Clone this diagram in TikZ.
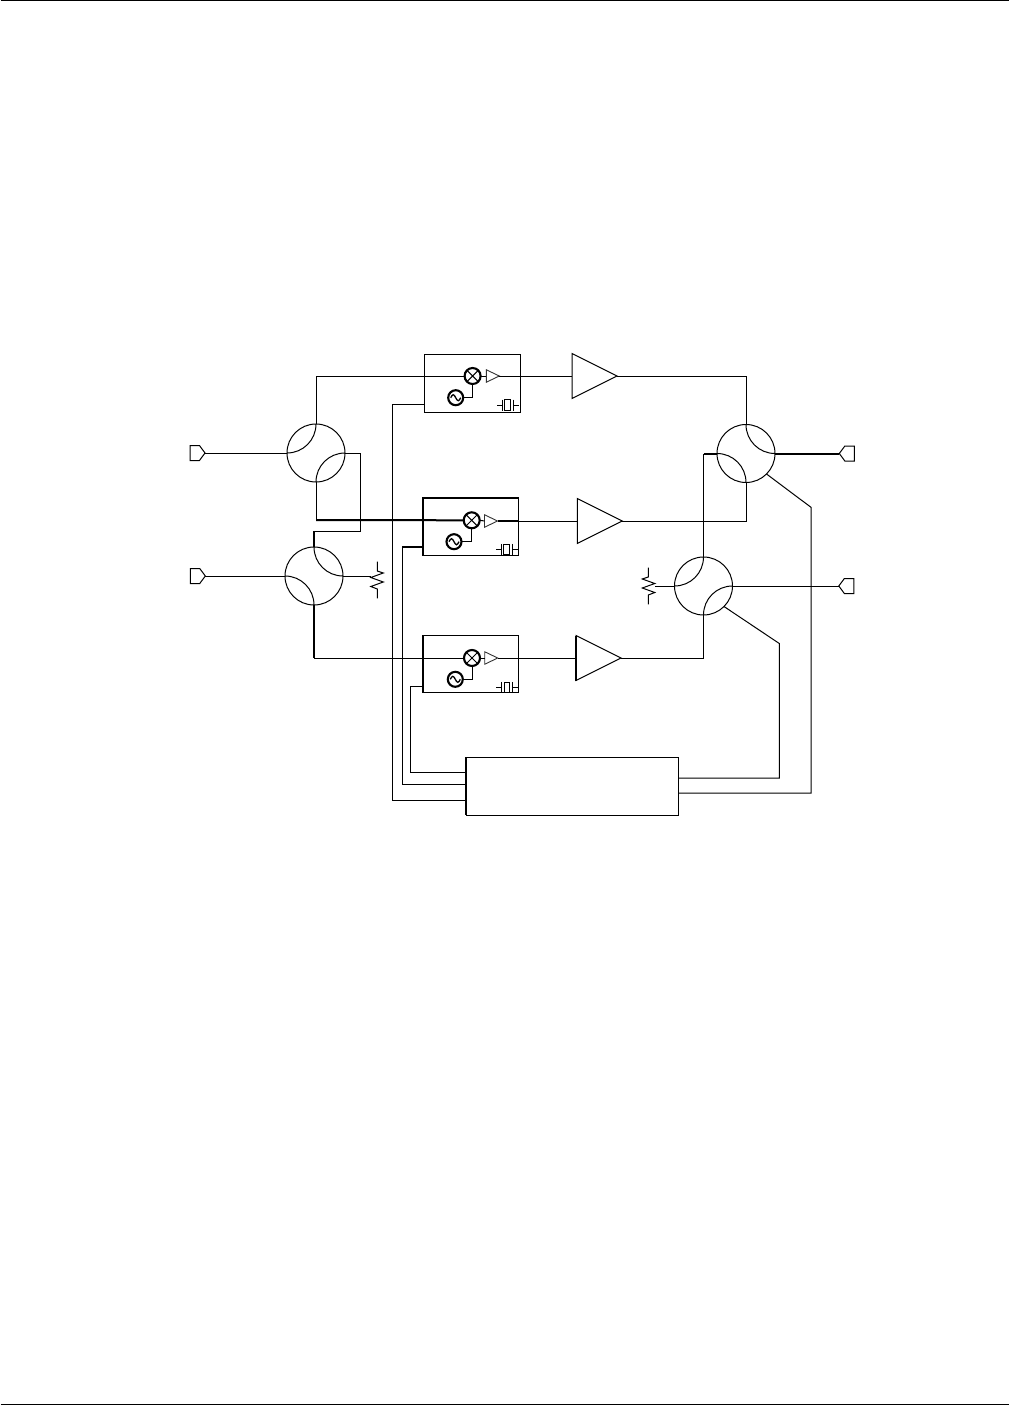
\documentclass[tikz,border=0pt]{standalone}
\usetikzlibrary{shapes.geometric, shapes.symbols}
\tikzset{
  coupler/.style = {circle, draw, line width=1pt, minimum size=58pt, inner sep=0pt, outer sep=0pt},
  ctlblk/.style  = {rectangle, draw, line width=1pt, minimum width=212pt, minimum height=58pt, inner sep=0pt, outer sep=0pt},
  mixblk/.style  = {rectangle, draw, line width=1pt, minimum width=96pt, minimum height=57.5pt, inner sep=0pt, outer sep=0pt},
  mixer/.style   = {circle, draw, line width=2.1pt, minimum size=16pt, inner sep=0pt, outer sep=0pt,
                    path picture={\draw[line width=1pt] (path picture bounding box.north west) -- (path picture bounding box.south east)
                                  (path picture bounding box.north east) -- (path picture bounding box.south west);}},
  osc/.style     = {circle, draw, line width=2.1pt, minimum size=15pt, inner sep=0pt, outer sep=0pt,
                    path picture={\draw[line width=1.3pt] ([xshift=-5pt]path picture bounding box.center)
                                  sin +(2.5pt,3pt) cos +(2.5pt,-3pt) sin +(2.5pt,-3pt) cos +(2.5pt,3pt);}},
  amp/.style     = {isosceles triangle, isosceles triangle stretches, draw, line width=1pt,
                    minimum width=45pt, minimum height=45pt, inner sep=0pt, outer sep=0pt, anchor=apex},
  minitri/.style = {isosceles triangle, isosceles triangle stretches, draw=black!80, line width=.9pt,
                    minimum width=12.5pt, minimum height=13pt, inner sep=0pt, outer sep=0pt, anchor=apex},
  portl/.style   = {signal, signal to=east, signal pointer angle=107, draw, line width=1pt,
                    minimum width=15pt, minimum height=15pt, inner sep=0pt, outer sep=0pt, anchor=east},
  portr/.style   = {signal, signal to=west, signal pointer angle=107, draw, line width=1pt,
                    minimum width=15pt, minimum height=15pt, inner sep=0pt, outer sep=0pt, anchor=west},
  wire/.style    = {line width=1pt},
  bus/.style     = {line width=2pt},
  xtal/.pic = {
    \draw[line width=.8pt] (-5.5,0) -- (-11,0) (-5.5,-5.5) -- (-5.5,5.5) (5.5,-5.5) -- (5.5,5.5) (5.5,0) -- (11,0);
    \draw[line width=.8pt] (-2.8,-5.3) rectangle (2.8,5.3);
  },
  resis/.pic = {
    \draw[line width=1pt] (0,-18.3) -- (0,-9) -- (6,-7) -- (-6.5,-2.5) -- (6,2) -- (-6.5,6.5) -- (0,9) -- (0,18.3);
  },
}
\begin{document}
\begin{tikzpicture}[x=1pt, y=-1pt]
	\useasboundingbox (0,0) rectangle (1010,1405);
	\draw[wire] (0.5,0.5) -- (1009,0.5);
	\draw[wire] (0.5,1404.5) -- (1009,1404.5);

	% ports and couplers
	\node[portl] (in1) at (205,453) {};
	\node[portl] (in2) at (205.3,576) {};
	\node[portr] (out1) at (839.3,453.5) {};
	\node[portr] (out2) at (838.8,586) {};
	\node[coupler] (cplA) at (316,453) {};
	\node[coupler] (cplB) at (314,576) {};
	\node[coupler] (cplC) at (746,453.5) {};
	\node[coupler] (cplD) at (703.5,586) {};

	% converter boxes
	\node[mixblk] (box1) at (472,383.3) {};
	\node[mixblk] (box2) at (470.7,526.5) {};
	\node[mixblk] (box3) at (470.7,663.8) {};
	\node[mixer] (mix1) at (472.6,376) {};
	\node[mixer] (mix2) at (471.7,520.3) {};
	\node[mixer] (mix3) at (472,658) {};
	\node[osc] (osc1) at (455.7,397.7) {};
	\node[osc] (osc2) at (454,541.7) {};
	\node[osc] (osc3) at (455.3,679.3) {};
	\node[minitri] (tri1) at (499.3,376) {};
	\node[minitri] (tri2) at (497.5,521) {};
	\node[minitri] (tri3) at (497.7,658) {};
	\pic at (507.5,405) {xtal};
	\pic at (506.5,549.3) {xtal};
	\pic at (507,687.3) {xtal};

	% amplifiers and control block
	\node[amp] (amp1) at (617,376) {};
	\node[amp] (amp2) at (622.3,521) {};
	\node[amp] (amp3) at (621,658) {};
	\node[ctlblk] (ctl) at (572,786.3) {};

	% terminations
	\pic at (377.3,580) {resis};
	\pic[xscale=-1] at (648.3,586) {resis};
	\coordinate (resA) at (370.5,576);
	\coordinate (resB) at (655,586);

	% bends
	\coordinate (bendA) at (316,520);
	\coordinate (bendB) at (360.3,453);
	\coordinate (bendC) at (360.3,531.3);
	\coordinate (bendD) at (314,531.3);
	\coordinate (bendE) at (314,658);
	\coordinate (bendF) at (703.5,453.5);
	\coordinate (box1w) at (424,404.3);
	\coordinate (box2w) at (422.7,547);
	\coordinate (box2t) at (402.3,547);
	\coordinate (box3w) at (422.7,686.3);
	\coordinate (ctlw1) at (466,772);
	\coordinate (ctlw2) at (466,784.3);
	\coordinate (ctlw3) at (466,800.3);
	\coordinate (ctle1) at (678,778);
	\coordinate (ctle2) at (678,793);
	\coordinate (riseD) at (779.3,643.5);
	\coordinate (riseC) at (811,507.3);

	% coupler arcs
	\draw[wire] (cplA.west) to[out=0, in=-90] (cplA.north);
	\draw[wire] (cplA.east) to[out=180, in=90] (cplA.south);
	\draw[wire] (cplB.north) to[out=-90, in=180] (cplB.east);
	\draw[wire] (cplB.west) to[out=0, in=90] (cplB.south);
	\draw[wire] (cplC.north) to[out=-90, in=180] (cplC.east);
	\draw[wire] (cplC.west) to[out=0, in=90] (cplC.south);
	\draw[wire] (cplD.west) to[out=0, in=-90] (cplD.north);
	\draw[wire] (cplD.east) to[out=180, in=90] (cplD.south);

	% signal paths
	\draw[wire] (in1.east) -- (cplA.west);
	\draw[wire] (in2.east) -- (cplB.west);
	\draw[wire] (cplB.east) -- (resA);
	\draw[wire] (cplD.west) -- (resB);
	\draw[wire] (cplA.north) |- (mix1.west);
	\draw[wire] (cplA.south) -- (bendA);
	\draw[bus] (bendA) -- (mix2.west);
	\draw[wire] (cplA.east) -- (bendB) -- (bendC) -- (bendD);
	\draw[bus] (bendD) -- (cplB.north);
	\draw[bus] (cplB.south) -- (bendE);
	\draw[wire] (bendE) -- (mix3.west);

	\draw[wire] (mix1.east) -- (tri1.lower side);
	\draw[wire] (mix2.east) -- (tri2.lower side);
	\draw[wire] (mix3.east) -- (tri3.lower side);
	\draw[wire] (osc1.east) -| (mix1.south);
	\draw[wire] (osc2.east) -| (mix2.south);
	\draw[wire] (osc3.east) -| (mix3.south);
	\draw[wire] (tri1.apex) -- (amp1.lower side);
	\draw[bus] (tri2.apex) -- (box2.east |- tri2.apex);
	\draw[wire] (box2.east |- tri2.apex) -- (amp2.lower side);
	\draw[wire] (tri3.apex) -- (amp3.lower side);

	\draw[wire] (amp1.apex) -| (cplC.north);
	\draw[wire] (amp2.apex) -| (cplC.south);
	\draw[wire] (amp3.apex) -| (cplD.south);
	\draw[wire] (cplD.north) -- (bendF);
	\draw[bus] (bendF) -- (cplC.west);
	\draw[bus] (cplC.east) -- (out1.west);
	\draw[wire] (cplD.east) -- (out2.west);

	% control lines
	\draw[wire] (box1w) -| (392.5,800.3) -- (ctlw3);
	\draw[bus] (box2w) -- (box2t);
	\draw[wire] (box2t) -- (402.3,784.3) -- (ctlw2);
	\draw[wire] (box3w) -| (410.3,772) -- (ctlw1);
	\draw[wire] (ctle1) -| (riseD) -- (cplD.-45);
	\draw[wire] (ctle2) -| (riseC) -- (cplC.-45);

	% heavier edges
	\draw[bus] (ctl.north west) -- (ctl.south west);
	\draw[bus] (box2.south west) -- (box2.north west) -- (box2.north east);
	\draw[bus] (box3.north west) -- (box3.south west);
	\draw[bus] (amp3.left corner) -- (amp3.right corner);
\end{tikzpicture}
\end{document}
